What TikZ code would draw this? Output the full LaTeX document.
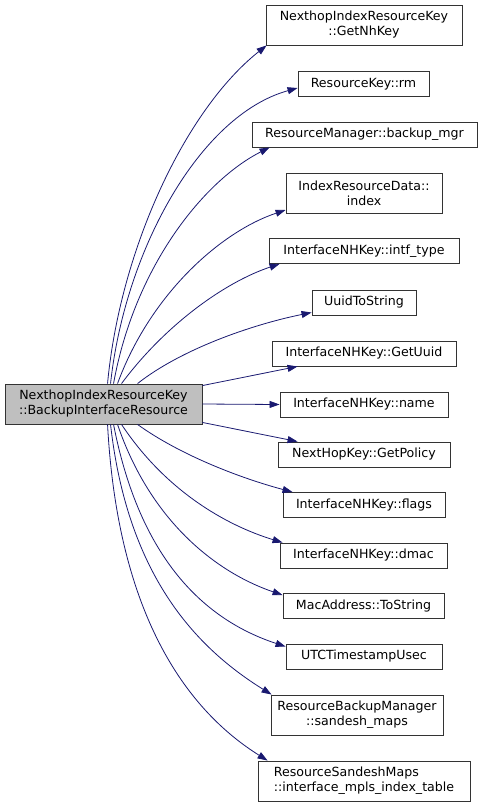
\documentclass[tikz,border=0pt]{standalone}
\usepackage{fontspec}
\setmainfont{DejaVu Sans}
\usetikzlibrary{arrows.meta}
\definecolor{midnight}{HTML}{191970}
\definecolor{rootfill}{HTML}{BFBFBF}

\begin{document}
\begin{tikzpicture}[
  x=1pt,y=-1pt,
  fn/.style={draw=black!80,line width=0.9pt,fill=white,inner sep=0pt,minimum height=25pt,align=center,font=\fontsize{12.6}{15}\selectfont},
  fntwo/.style={fn,minimum height=40pt},
  call/.style={midnight,line width=0.8pt,-{Triangle[length=10pt,width=7pt]}},
]
  \useasboundingbox (0,0) rectangle (483,807);

  \node[fntwo,fill=rootfill,minimum width=197pt] (root) at (103.5,404) {NexthopIndexResourceKey\\::BackupInterfaceResource};

  \node[fntwo,minimum width=196pt] (nhkey) at (364,25) {NexthopIndexResourceKey\\::GetNhKey};
  \node[fn,minimum width=131pt] (rm) at (363.5,84) {ResourceKey::rm};
  \node[fn,minimum width=225pt] (bkmgr) at (364.5,134.5) {ResourceManager::backup\_mgr};
  \node[fntwo,minimum width=156pt] (index) at (364,193) {IndexResourceData::\\index};
  \node[fn,minimum width=190pt] (intftype) at (364,251) {InterfaceNHKey::intf\_type};
  \node[fn,minimum width=104pt] (uuidstr) at (364,302.5) {UuidToString};
  \node[fn,minimum width=184pt] (getuuid) at (364,353.5) {InterfaceNHKey::GetUuid};
  \node[fn,minimum width=168pt] (name) at (364,404.5) {InterfaceNHKey::name};
  \node[fn,minimum width=172pt] (policy) at (364,454.5) {NextHopKey::GetPolicy};
  \node[fn,minimum width=162pt] (flags) at (364,505) {InterfaceNHKey::flags};
  \node[fn,minimum width=167pt] (dmac) at (363.5,555.5) {InterfaceNHKey::dmac};
  \node[fn,minimum width=161pt] (macstr) at (363.5,606) {MacAddress::ToString};
  \node[fn,minimum width=156pt] (utc) at (364,656.5) {UTCTimestampUsec};
  \node[fntwo,minimum width=172pt] (smaps) at (357,715) {ResourceBackupManager\\::sandesh\_maps};
  \node[fntwo,minimum width=212pt,align=left] (mpls) at (364,781) {ResourceSandeshMaps\\::interface\_mpls\_index\_table};

  % calls going up
  \draw[call] ([xshift=103pt]root.north west) .. controls (120,250) and (185,110) .. ([xshift=1pt]nhkey.south west);
  \draw[call] ([xshift=106pt]root.north west) .. controls (125,250) and (200,115) .. ([yshift=-4pt]rm.west);
  \draw[call] ([xshift=109pt]root.north west) .. controls (135,265) and (205,180) .. ([xshift=18pt]bkmgr.south west);
  \draw[call] ([xshift=113pt]root.north west) .. controls (150,295) and (220,232) .. ([yshift=-17pt]index.west);
  \draw[call] ([xshift=117pt]root.north west) .. controls (165,325) and (225,282) .. ([xshift=11pt]intftype.south west);
  \draw[call] ([xshift=133pt]root.north west) .. controls (180,350) and (250,325) .. ([yshift=-10pt]uuidstr.west);
  \draw[call] ([yshift=-2pt]root.north east) -- ([xshift=26pt]getuuid.south west);
  \draw[call] (root.east) -- (name.west);

  % calls going down
  \draw[call] ([yshift=2pt]root.south east) -- ([xshift=20pt]policy.north west);
  \draw[call] ([xshift=133pt]root.south west) .. controls (180,455) and (240,478) .. ([xshift=10pt]flags.north west);
  \draw[call] ([xshift=117pt]root.south west) .. controls (165,490) and (225,525) .. ([xshift=3pt]dmac.north west);
  \draw[call] ([xshift=113pt]root.south west) .. controls (150,520) and (215,572) .. ([yshift=-2pt]macstr.north west);
  \draw[call] ([xshift=109pt]root.south west) .. controls (140,560) and (205,620) .. ([yshift=-3pt]utc.north west);
  \draw[call] ([xshift=106pt]root.south west) .. controls (128,580) and (200,650) .. ([xshift=1pt]smaps.north west);
  \draw[call] ([xshift=103pt]root.south west) .. controls (118,620) and (190,712) .. ([xshift=10pt]mpls.north west);
\end{tikzpicture}
\end{document}
